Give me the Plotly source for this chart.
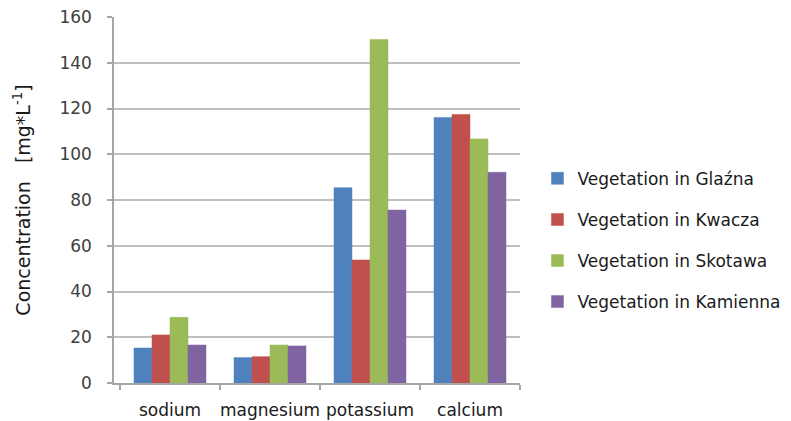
import plotly.graph_objects as go

categories = ["sodium", "magnesium", "potassium", "calcium"]
series_names = ["Vegetation in Glaźna", "Vegetation in Kwacza",
                "Vegetation in Skotawa", "Vegetation in Kamienna"]
glazna = [15.3, 11.1, 85.4, 116.1]
kwacza = [21.0, 11.5, 53.8, 117.4]
skotawa = [28.7, 16.6, 150.2, 106.7]
kamienna = [16.6, 16.2, 75.6, 92.1]
y_ticks = [0, 20, 40, 60, 80, 100, 120, 140, 160]

colors = ["#4F81BD", "#C0504D", "#9BBB59", "#8064A2"]
values = [glazna, kwacza, skotawa, kamienna]

fig = go.Figure()
for i, (name, vals) in enumerate(zip(series_names, values)):
    fig.add_trace(go.Bar(
        x=categories, y=vals, name=name, legendgroup=f"g{i}",
        marker=dict(color=colors[i], line=dict(color=colors[i], width=0.5)),
    ))

font_family = "DejaVu Sans, Liberation Sans, Arial, sans-serif"
fig.update_layout(
    width=791, height=421,
    margin=dict(l=114, r=271, t=17, b=38, autoexpand=False),
    plot_bgcolor="white", paper_bgcolor="white",
    barmode="group", bargap=0.28, bargroupgap=0,
    font=dict(family=font_family, color="#404040", size=17),
    showlegend=True,
    legend=dict(x=1.043, y=0.39, xanchor="left", yanchor="middle",
                font=dict(size=17, color="#1a1a1a"), tracegroupgap=16,
                bgcolor="rgba(0,0,0,0)"),
    xaxis=dict(range=[-0.56, 3.5], showline=True, linecolor="#a6a6a6",
               linewidth=1.5, ticks="outside", ticklen=5, tickcolor="#a6a6a6",
               tickwidth=1.5, tickson="boundaries",
               tickfont=dict(size=17, color="#1a1a1a"),
               tickangle=0, ticklabelstandoff=11, automargin=False,
               showgrid=False, zeroline=False),
    yaxis=dict(range=[0, 160], tickvals=y_ticks, showline=True,
               linecolor="#a6a6a6", linewidth=1.5, ticks="outside", ticklen=5,
               tickcolor="#a6a6a6", tickwidth=1.5, showgrid=True,
               gridcolor="#bfbfbf", gridwidth=1.5, zeroline=False,
               tickfont=dict(size=17, color="#404040"), ticklabelstandoff=12,
               automargin=False,
               title=dict(text="Concentration   [mg*L<sup>-1</sup>]",
                          font=dict(size=19, color="#1a1a1a"), standoff=24)),
)

fig.write_html("out.html", config={"displayModeBar": False},
               post_script="document.body.style.margin='0px';document.body.style.padding='0px';")
